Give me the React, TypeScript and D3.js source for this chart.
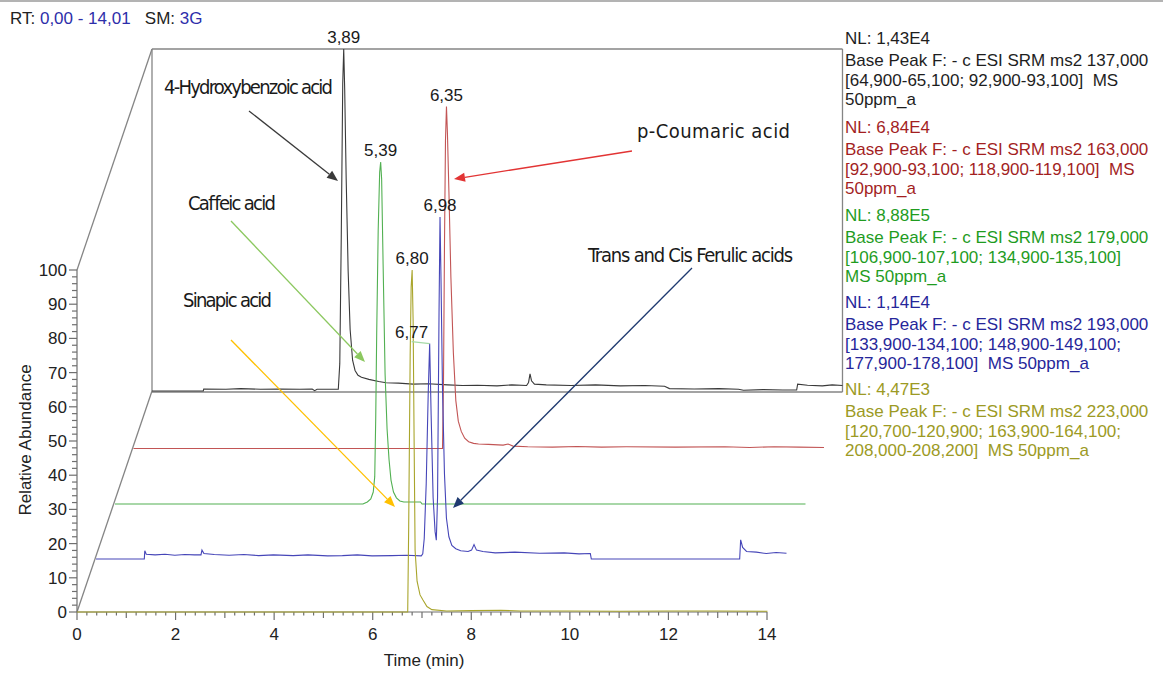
import React from 'react';
import * as d3 from 'd3';

const W = 1163;
const H = 673;

// ---------- data (time in min, relative abundance in %) ----------
const xMajorTicks = [0, 2, 4, 6, 8, 10, 12, 14];
const yMajorTicks = [0, 10, 20, 30, 40, 50, 60, 70, 80, 90, 100];

const hydroxybenzoicTrace: [number, number][] = [
  [0, 0], [1.04, 0], [1.05, 0.6], [1.5, 0.5], [1.8, 0.7], [2.2, 0.5], [2.6, 0.6], [3.0, 0.5],
  [3.25, 0.6], [3.3, 0.1], [3.35, 0.5], [3.78, 0.5], [3.81, 8], [3.84, 45], [3.87, 90], [3.89, 100],
  [3.91, 88], [3.94, 62], [3.98, 35], [4.02, 18], [4.07, 9], [4.12, 6], [4.18, 4.6], [4.25, 4],
  [4.4, 3.4], [4.6, 2.8], [4.75, 2.4], [5.0, 2.3], [5.3, 2.0], [5.6, 2.1], [6.0, 1.8], [6.3, 1.6],
  [6.6, 1.7], [7.0, 1.5], [7.3, 1.8], [7.6, 1.6], [7.64, 2.5], [7.67, 5.0], [7.7, 3.0], [7.76, 2.0],
  [8.0, 1.8], [8.5, 1.6], [9.0, 1.8], [9.5, 1.5], [10.0, 1.6], [10.4, 1.4], [10.5, 0.7], [11.0, 0.6],
  [11.5, 0.7], [11.9, 0.5], [12.0, 0.2], [12.4, 0.4], [12.8, 0.3], [13.08, 0.3], [13.1, 2.0],
  [13.3, 1.7], [13.6, 1.5], [13.8, 1.8], [14.01, 1.6],
];

const coumaricTrace: [number, number][] = [
  [0, 0], [6.27, 0], [6.29, 20], [6.31, 60], [6.33, 90], [6.35, 100], [6.37, 92], [6.4, 75],
  [6.44, 50], [6.49, 28], [6.54, 14], [6.59, 8], [6.65, 5], [6.72, 3], [6.8, 2], [6.9, 1.5],
  [7.0, 1.3], [7.2, 1.2], [7.5, 1.0], [7.6, 1.3], [7.7, 0.7], [8.0, 0.5], [8.5, 0.4], [9.0, 0.6],
  [9.5, 0.4], [10.0, 0.5], [11.0, 0.4], [12.0, 0.5], [12.5, 0.3], [13.0, 0.5], [13.5, 0.4], [14.01, 0.3],
];

const caffeicTrace: [number, number][] = [
  [0, 0], [5.03, 0], [5.12, 0.6], [5.19, 1.5], [5.24, 3.5], [5.27, 8], [5.29, 25], [5.31, 50],
  [5.34, 80], [5.37, 97], [5.39, 100], [5.41, 95], [5.44, 70], [5.48, 38], [5.52, 22], [5.56, 13],
  [5.6, 7], [5.65, 3.5], [5.71, 1.8], [5.78, 0.9], [5.86, 0.6], [6.2, 0.6], [6.23, 0], [14.01, 0],
];

const ferulicTrace: [number, number][] = [
  [0, 0], [0.98, 0], [0.99, 2.4], [1.02, 1.4], [1.2, 1.2], [1.4, 1.4], [1.6, 1.1], [1.8, 1.3],
  [2.0, 1.2], [2.13, 1.2], [2.15, 2.6], [2.19, 1.6], [2.4, 1.3], [2.7, 1.1], [3.0, 1.3], [3.3, 1.0],
  [3.6, 1.2], [4.0, 1.0], [4.3, 1.2], [4.7, 0.9], [5.0, 1.0], [5.3, 1.2], [5.6, 0.9], [6.0, 1.0],
  [6.3, 1.1], [6.6, 0.9], [6.63, 1.5], [6.66, 6], [6.7, 22], [6.74, 48], [6.77, 63], [6.8, 42],
  [6.84, 18], [6.88, 8], [6.905, 5.5], [6.93, 18], [6.96, 72], [6.98, 100], [7.0, 82], [7.03, 50],
  [7.07, 25], [7.11, 12], [7.16, 6.5], [7.22, 4], [7.3, 3], [7.4, 2.4], [7.55, 2.2], [7.62, 2.6],
  [7.67, 4.2], [7.72, 2.6], [7.85, 2.2], [8.1, 1.8], [8.5, 2.0], [9.0, 1.7], [9.5, 1.8], [9.8, 1.5],
  [10.03, 1.6], [10.05, 0], [13.06, 0], [13.08, 5.6], [13.12, 3.4], [13.2, 2.2], [13.4, 2.0],
  [13.6, 1.6], [13.8, 1.9], [14.01, 1.7],
];

const sinapicTrace: [number, number][] = [
  [0, 0], [6.71, 0], [6.73, 25], [6.76, 75], [6.78, 95], [6.8, 100], [6.82, 85], [6.84, 50],
  [6.86, 18], [6.9, 9], [6.96, 5], [7.02, 3.5], [7.1, 1.6], [7.2, 0.7], [7.5, 0.3], [8.0, 0.4],
  [8.6, 0.5], [9.0, 0.3], [10, 0.3], [11, 0.2], [12, 0.3], [13, 0.3], [14.01, 0.2],
];

const peakLabels = [
  { series: 0, t: 3.89, text: '3,89' },
  { series: 1, t: 6.35, text: '6,35' },
  { series: 2, t: 5.39, text: '5,39' },
  { series: 3, t: 6.98, text: '6,98' },
  { series: 3, t: 6.77, text: '6,77' },
  { series: 4, t: 6.8, text: '6,80' },
];

const legendBlocks: string[][] = [
  ['NL: 1,43E4', 'Base Peak F: - c ESI SRM ms2 137,000', '[64,900-65,100; 92,900-93,100]  MS', '50ppm_a'],
  ['NL: 6,84E4', 'Base Peak F: - c ESI SRM ms2 163,000', '[92,900-93,100; 118,900-119,100]  MS', '50ppm_a'],
  ['NL: 8,88E5', 'Base Peak F: - c ESI SRM ms2 179,000', '[106,900-107,100; 134,900-135,100]', 'MS 50ppm_a'],
  ['NL: 1,14E4', 'Base Peak F: - c ESI SRM ms2 193,000', '[133,900-134,100; 148,900-149,100;', '177,900-178,100]  MS 50ppm_a'],
  ['NL: 4,47E3', 'Base Peak F: - c ESI SRM ms2 223,000', '[120,700-120,900; 163,900-164,100;', '208,000-208,200]  MS 50ppm_a'],
];

const annotationTexts = [
  '4-Hydroxybenzoic acid',
  'p-Coumaric acid',
  'Caffeic acid',
  'Sinapic acid',
  'Trans and Cis Ferulic acids',
];

// ---------- layout / styles ----------
const traces = [hydroxybenzoicTrace, coumaricTrace, caffeicTrace, ferulicTrace, sinapicTrace];
const traceColors = ['#3a3a3a', '#c25555', '#52b052', '#4646b8', '#a9a52c'];
const legendColors = ['#1e1e1e', '#a31f1f', '#1f9c1f', '#26269a', '#9c9a24'];
const levelDx = [75, 56.5, 38, 19, 0];
const levelDy = [221, 163.5, 108, 53, 0];
const legendStart = [44, 133, 221, 308, 395];

const annotationLayout = [
  { x: 164, y: 94, w: 169, from: [249, 111], to: [338, 181], color: '#3a3a3a' },
  { x: 637, y: 138, w: 153, from: [632, 151], to: [454, 179], color: '#e23434' },
  { x: 188, y: 210, w: 88, from: [231, 221], to: [365, 362], color: '#8cc860' },
  { x: 183, y: 307, w: 89, from: [231, 340], to: [395, 507], color: '#ffc000' },
  { x: 588, y: 262, w: 205, from: [692, 268], to: [453, 508], color: '#1f3a70' },
];

const SANS = '"Liberation Sans", Arial, sans-serif';
const NARROW = '"Liberation Sans Narrow", "DejaVu Sans Condensed", "Roboto Condensed", "Liberation Sans", sans-serif';

function Arrow({ from, to, color }: { from: number[]; to: number[]; color: string }) {
  const [x1, y1] = from;
  const [x2, y2] = to;
  const ang = Math.atan2(y2 - y1, x2 - x1);
  const L = 11;
  const hw = 4.5;
  const bx = x2 - L * Math.cos(ang);
  const by = y2 - L * Math.sin(ang);
  const px = -Math.sin(ang) * hw;
  const py = Math.cos(ang) * hw;
  return (
    <g>
      <line x1={x1} y1={y1} x2={bx} y2={by} stroke={color} strokeWidth={1.3} />
      <polygon points={`${x2},${y2} ${bx + px},${by + py} ${bx - px},${by - py}`} fill={color} />
    </g>
  );
}

export default function App() {
  const x = d3.scaleLinear().domain([0, 14]).range([77, 767]);
  const y = d3.scaleLinear().domain([0, 100]).range([612, 270]);

  const lineFor = (i: number) =>
    d3
      .line<[number, number]>()
      .x((d) => x(d[0]) + levelDx[i])
      .y((d) => y(d[1]) - levelDy[i]);

  const frameCol = '#858585';
  const bx0 = x(0) + levelDx[0];
  const bx1 = x(14.01) + levelDx[0];
  const byBase = y(0) - levelDy[0];
  const byTop = y(100) - levelDy[0];

  const xMinor = d3.range(0, 14.001, 0.2);
  const yMinor = d3.range(0, 100.001, 2);

  return (
    <svg
      width={W}
      height={H}
      viewBox={`0 0 ${W} ${H}`}
      style={{ position: 'absolute', left: 0, top: 0, background: '#fff' }}
    >
      <rect x={0} y={0} width={W} height={H} fill="#fff" />
      <line x1={0} y1={1} x2={W} y2={1} stroke="#9a9a9a" strokeWidth={1.5} />

      {/* header */}
      <text x={10} y={24} fontFamily={SANS} fontSize={17} fill="#222" style={{ whiteSpace: 'pre' }}>
        <tspan>RT: </tspan>
        <tspan fill="#2e2eaa">0,00 - 14,01</tspan>
        <tspan>   SM: </tspan>
        <tspan fill="#2e2eaa">3G</tspan>
      </text>

      {/* 3D frame */}
      <g stroke={frameCol} strokeWidth={1.3} fill="none">
        <line x1={x(0)} y1={y(0)} x2={bx0} y2={byBase} />
        <line x1={x(0)} y1={y(100)} x2={bx0} y2={byTop} />
        <line x1={bx0} y1={byBase} x2={bx0} y2={byTop} />
        <line x1={bx0} y1={byTop} x2={bx1} y2={byTop} />
        <line x1={bx1} y1={byTop} x2={bx1} y2={byBase + 1} />
        <line x1={bx0} y1={byBase + 1} x2={bx1} y2={byBase + 1} />
      </g>

      {/* y axis */}
      <g stroke="#6f6f6f" strokeWidth={1.2}>
        <line x1={x(0)} y1={y(0)} x2={x(0)} y2={y(100)} />
        {yMinor.map((v) => (
          <line key={'ym' + v} x1={x(0) - (v % 10 === 0 ? 8 : 5)} y1={y(v)} x2={x(0)} y2={y(v)} />
        ))}
      </g>
      {yMajorTicks.map((v) => (
        <text
          key={'yl' + v}
          x={x(0) - 10}
          y={y(v) + 6}
          textAnchor="end"
          fontFamily={SANS}
          fontSize={17}
          fill="#222"
        >
          {v}
        </text>
      ))}
      <text
        transform={`translate(31, 440) rotate(-90)`}
        textAnchor="middle"
        fontFamily={SANS}
        fontSize={17}
        fill="#222"
      >
        Relative Abundance
      </text>

      {/* x axis */}
      <g stroke="#6f6f6f" strokeWidth={1.2}>
        <line x1={x(0)} y1={y(0)} x2={x(14)} y2={y(0)} />
        {xMinor.map((v, i) => {
          const len = i % 10 === 0 ? 8 : i % 5 === 0 ? 6 : 3.5;
          return <line key={'xm' + i} x1={x(v)} y1={y(0)} x2={x(v)} y2={y(0) + len} />;
        })}
      </g>
      {xMajorTicks.map((v) => (
        <text key={'xl' + v} x={x(v)} y={640} textAnchor="middle" fontFamily={SANS} fontSize={17} fill="#222">
          {v}
        </text>
      ))}
      <text x={424} y={666} textAnchor="middle" fontFamily={SANS} fontSize={17} fill="#222">
        Time (min)
      </text>

      {/* traces */}
      {traces.map((tr, i) => (
        <path key={'tr' + i} d={lineFor(i)(tr) || ''} fill="none" stroke={traceColors[i]} strokeWidth={1.1} />
      ))}

      {/* peak labels */}
      {peakLabels.map((p, k) => {
        const pt = traces[p.series].find((d) => d[0] === p.t)!;
        const px = x(pt[0]) + levelDx[p.series];
        const py = y(pt[1]) - levelDy[p.series];
        const shifted = p.text === '6,77';
        const lx = shifted ? px - 18 : px;
        return (
          <g key={'pl' + k}>
            {shifted && <line x1={lx} y1={py - 2} x2={px} y2={py} stroke="#a6daa6" strokeWidth={1.3} />}
            <text x={lx} y={py - 6} textAnchor="middle" fontFamily={SANS} fontSize={17} fill="#1a1a1a">
              {p.text}
            </text>
          </g>
        );
      })}

      {/* annotations */}
      {annotationTexts.map((t, i) => {
        const a = annotationLayout[i];
        return (
          <g key={'an' + i}>
            <text
              x={a.x}
              y={a.y}
              fontFamily={NARROW}
              fontSize={20}
              fill="#1a1a1a"
              textLength={a.w}
              lengthAdjust="spacing"
              style={{ fontStretch: 'condensed' }}
            >
              {t}
            </text>
            <Arrow from={a.from} to={a.to} color={a.color} />
          </g>
        );
      })}

      {/* legend */}
      {legendBlocks.map((block, bi) => (
        <g key={'lg' + bi}>
          {block.map((ln, li) => (
            <text
              key={li}
              x={845}
              y={legendStart[bi] + (li === 0 ? 0 : 22 + (li - 1) * 19.5)}
              fontFamily={SANS}
              fontSize={17}
              fill={legendColors[bi]}
              style={{ whiteSpace: 'pre' }}
            >
              {ln}
            </text>
          ))}
        </g>
      ))}
    </svg>
  );
}
